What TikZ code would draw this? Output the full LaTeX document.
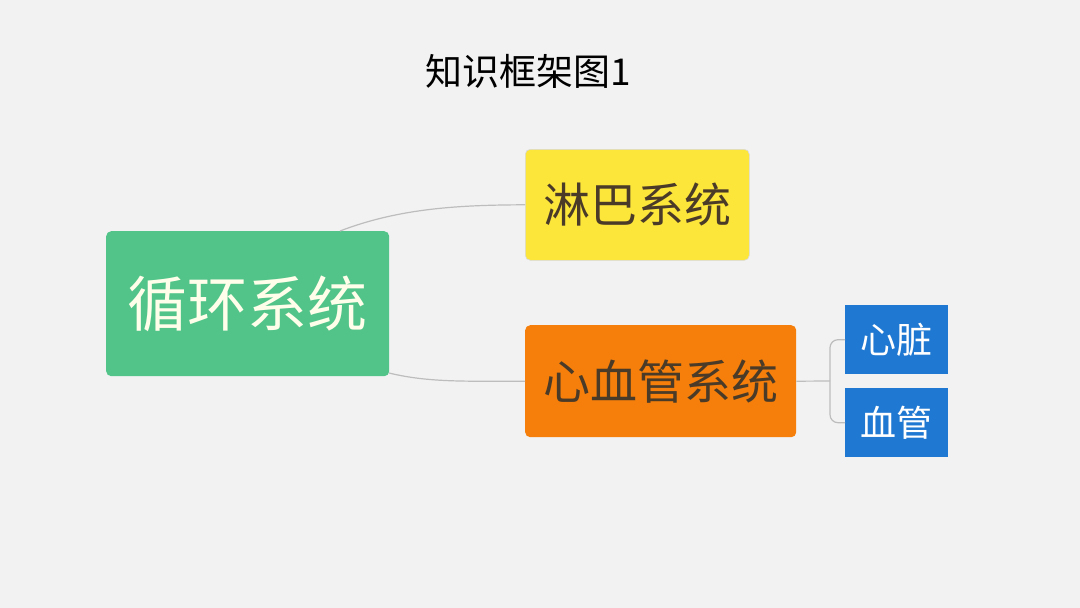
\documentclass[tikz,border=0pt]{standalone}
\usepackage{fontspec}
\setmainfont{Noto Sans CJK SC}
\usetikzlibrary{positioning}
\definecolor{bg}{HTML}{F2F2F2}
\definecolor{gr}{HTML}{52C48A}
\definecolor{ye}{HTML}{FDE63A}
\definecolor{orng}{HTML}{F57F0A}
\definecolor{bl}{HTML}{1F78D1}
\definecolor{ln}{HTML}{BDBDBD}
\definecolor{dk}{HTML}{4A3A28}
\tikzset{
  box/.style={rounded corners=5pt, inner sep=0pt, anchor=north west},
  conn/.style={draw=ln, line width=1.2pt},
}
\begin{document}
\begin{tikzpicture}[x=1pt,y=-1pt]
\fill[bg] (0,0) rectangle (1080,608);
\useasboundingbox (0,0) rectangle (1080,608);
\node (title) at (528,71) {\fontsize{37}{42}\selectfont 知识框架图1};
\node[box, fill=gr, minimum width=283pt, minimum height=145pt] (root) at (106,231) {};
\node[text=white!92!yellow] at (root.center) {\fontsize{60}{66}\selectfont 循环系统};
\node[box, fill=ye, draw=black!15, line width=0.6pt, minimum width=224pt, minimum height=111pt] (lymph) at (525,149) {};
\node[text=dk] at (lymph.center) {\fontsize{47}{52}\selectfont 淋巴系统};
\node[box, fill=orng, minimum width=271pt, minimum height=112pt] (cardio) at (525,325) {};
\node[text=dk] at (cardio.center) {\fontsize{47}{52}\selectfont 心血管系统};
\node[box, rounded corners=0pt, fill=bl, minimum width=103pt, minimum height=69pt] (heart) at (845,305) {};
\node[text=white] at (heart.center) {\fontsize{36}{40}\selectfont 心脏};
\node[box, rounded corners=0pt, fill=bl, minimum width=103pt, minimum height=69pt] (vessel) at (845,388) {};
\node[text=white] at (vessel.center) {\fontsize{36}{40}\selectfont 血管};
\coordinate (rt) at (340,231);
\coordinate (rb) at (389,373);
\draw[conn] (rt) .. controls (400,208) and (460,205) .. (lymph.west);
\draw[conn] (rb) .. controls (430,383) and (470,381) .. (cardio.west);
\coordinate (br) at (830,381);
\draw[conn] (cardio.east) -- (br);
\draw[conn, rounded corners=8pt] (heart.west) -| (br) |- (vessel.west);
\end{tikzpicture}
\end{document}
